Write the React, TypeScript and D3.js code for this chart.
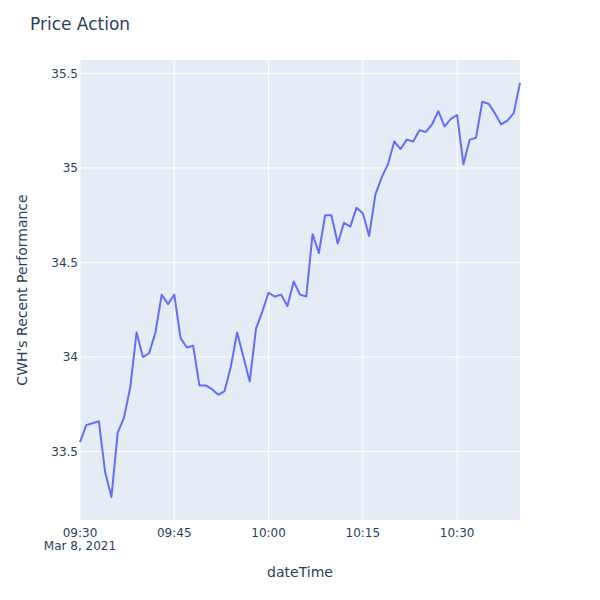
import React from "react";
import * as d3 from "d3";

const startTime = new Date(2021, 2, 8, 9, 30);
const prices: number[] = [
  33.55, 33.64, 33.65, 33.66, 33.39, 33.26, 33.60, 33.68, 33.84, 34.13,
  34.00, 34.02, 34.13, 34.33, 34.28, 34.33, 34.10, 34.05, 34.06, 33.85,
  33.85, 33.83, 33.80, 33.82, 33.95, 34.13, 34.00, 33.87, 34.15, 34.24,
  34.34, 34.32, 34.33, 34.27, 34.40, 34.33, 34.32, 34.65, 34.55, 34.75,
  34.75, 34.60, 34.71, 34.69, 34.79, 34.76, 34.64, 34.86, 34.95, 35.02,
  35.14, 35.10, 35.15, 35.14, 35.20, 35.19, 35.23, 35.30, 35.22, 35.26,
  35.28, 35.02, 35.15, 35.16, 35.35, 35.34, 35.29, 35.23, 35.25, 35.29,
  35.45,
];
const yTicks: number[] = [33.5, 34, 34.5, 35, 35.5];
const yTickLabels: string[] = ["33.5", "34", "34.5", "35", "35.5"];
const xTickMinutes: number[] = [0, 15, 30, 45, 60];

const data = prices.map((p, i) => ({ t: d3.timeMinute.offset(startTime, i), p }));

const W = 600, H = 600;
const M = { left: 80, right: 80, top: 60, bottom: 80 };
const FONT = '"DejaVu Sans", verdana, sans-serif';
const TXT = "#2a3f5f";

export default function App() {
  const x = d3
    .scaleTime()
    .domain(d3.extent(data, (d) => d.t) as [Date, Date])
    .range([M.left, W - M.right]);
  const y = d3.scaleLinear().domain([33.138, 35.571]).range([H - M.bottom, M.top]);
  const line = d3
    .line<{ t: Date; p: number }>()
    .x((d) => x(d.t))
    .y((d) => y(d.p));
  const xTicks = xTickMinutes.map((m) => d3.timeMinute.offset(startTime, m));
  const fmt = d3.timeFormat("%H:%M");
  return (
    <svg width={W} height={H} style={{ position: "absolute", left: 0, top: 0, background: "#fff" }}>
      <rect x={M.left} y={M.top} width={W - M.left - M.right} height={H - M.top - M.bottom} fill="#E5ECF6" />
      {xTicks.map((t, i) => (
        <line key={"xg" + i} x1={x(t)} x2={x(t)} y1={M.top} y2={H - M.bottom} stroke="#fff" strokeWidth={1} />
      ))}
      {yTicks.map((v, i) => (
        <line key={"yg" + i} x1={M.left} x2={W - M.right} y1={y(v)} y2={y(v)} stroke="#fff" strokeWidth={1} />
      ))}
      <path d={line(data) || ""} fill="none" stroke="#636efa" strokeWidth={2} strokeLinejoin="round" />
      {yTicks.map((v, i) => (
        <text key={"yt" + i} x={M.left - 2} y={y(v)} dy="0.35em" textAnchor="end" fontFamily={FONT} fontSize={12} fill={TXT}>
          {yTickLabels[i]}
        </text>
      ))}
      {xTicks.map((t, i) => (
        <text key={"xt" + i} x={x(t)} y={H - M.bottom + 17} textAnchor="middle" fontFamily={FONT} fontSize={12} fill={TXT}>
          {fmt(t)}
        </text>
      ))}
      <text x={x(xTicks[0])} y={H - M.bottom + 30} textAnchor="middle" fontFamily={FONT} fontSize={12} fill={TXT}>
        Mar 8, 2021
      </text>
      <text x={(M.left + W - M.right) / 2} y={577} textAnchor="middle" fontFamily={FONT} fontSize={14} fill={TXT}>
        dateTime
      </text>
      <text
        transform={`translate(27,${(M.top + H - M.bottom) / 2}) rotate(-90)`}
        textAnchor="middle"
        fontFamily={FONT}
        fontSize={14}
        fill={TXT}
      >
        CWH's Recent Performance
      </text>
      <text x={30} y={30} fontFamily={FONT} fontSize={17} fill={TXT}>
        Price Action
      </text>
    </svg>
  );
}
